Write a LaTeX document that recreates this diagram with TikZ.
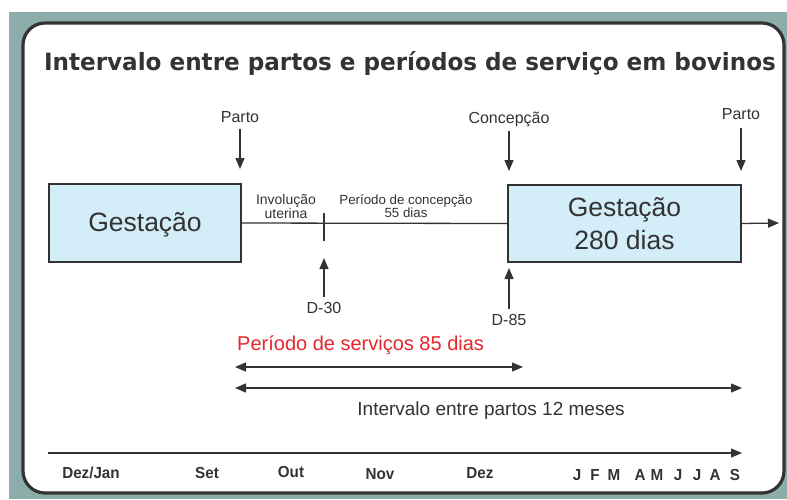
\documentclass[tikz,border=0pt]{standalone}
\usepackage{fontspec}
\setmainfont{Liberation Sans}
\newfontfamily\titlefont[FakeStretch=0.97]{DejaVu Sans}
\newfontfamily\narrowfont[FakeStretch=0.95]{Liberation Sans}
\usetikzlibrary{arrows.meta}
\definecolor{teal0}{HTML}{8CAEAB}
\definecolor{ink}{HTML}{333333}
\definecolor{boxblue}{HTML}{D3EDF9}
\definecolor{redtxt}{HTML}{E8262C}
\tikzset{
  fs/.style={font=\fontsize{#1}{#1}\selectfont},
  lbl/.style={text=ink, inner sep=0pt, anchor=center},
  gbox/.style={draw=ink, line width=1.2pt, fill=boxblue, inner sep=0pt, text=ink},
  conn/.style={draw=ink, line width=1.3pt},
  arr/.style={conn, -{Triangle[length=11pt,width=9pt]}},
  darr/.style={conn, {Triangle[length=11pt,width=9pt]}-{Triangle[length=11pt,width=9pt]}},
  month/.style={lbl, font=\narrowfont\bfseries\fontsize{16}{16}\selectfont},
}
\begin{document}
\begin{tikzpicture}[x=1pt,y=-1pt]
\useasboundingbox (0,0) rectangle (787,499);
\fill[white] (0,0) rectangle (787,499);
\fill[teal0] (9,12) rectangle (787,499);
\draw[ink, line width=3.2pt, fill=white, rounded corners=22pt] (23,23) rectangle (784,493);

\node[lbl, font=\titlefont\bfseries\fontsize{23.8}{24}\selectfont] (title) at (410,63) {Intervalo entre partos e períodos de serviço em bovinos};

% boxes
\node[gbox, minimum width=192pt, minimum height=78pt, fs=26.5, text height=19pt, text depth=2pt] (g1) at (145,223) {Gestação};
\node[gbox, minimum width=233pt, minimum height=77pt, align=center, fs=26.5] (g2) at (624.5,223.5) {Gestação\\[6pt]280 dias};

\coordinate (tickT) at (324,213);
\coordinate (tickB) at (324,241);
\draw[conn] (g1.east) -- (g2.west);
\draw[conn] (tickT) -- (tickB);
\coordinate (outend) at (779,223);
\draw[arr] (g2.east) -- (outend);

\node[lbl, fs=14, align=center] (invol) at (286,206) {Involução\\uterina};
\node[lbl, fs=13.3, align=center] (conc) at (406,206) {Período de concepção\\55 dias};

% top labels and arrows
\node[lbl, fs=16] (parto1) at (240,117) {Parto};
\node[lbl, fs=16] (concep) at (509,119) {Concepção};
\node[lbl, fs=16] (parto2) at (741,114) {Parto};
\coordinate (p1s) at (240,129);
\coordinate (c1s) at (509,131);
\coordinate (p2s) at (741,128);
\coordinate (p1e) at (240,169);
\coordinate (cce) at (509,171);
\coordinate (p2e) at (741,171);
\draw[arr] (p1s) -- (p1e);
\draw[arr] (c1s) -- (cce);
\draw[arr] (p2s) -- (p2e);

% bottom labels and arrows
\node[lbl, fs=16] (d30) at (324,308) {D-30};
\node[lbl, fs=16] (d85) at (509,320) {D-85};
\coordinate (d30s) at (324,297);
\coordinate (d85s) at (509,309);
\coordinate (d30e) at (324,258);
\coordinate (d85e) at (509,268);
\draw[arr] (d30s) -- (d30e);
\draw[arr] (d85s) -- (d85e);

% service period
\node[lbl, fs=20, text=redtxt, anchor=west] (serv) at (237,345) {Período de serviços 85 dias};
\coordinate (s1) at (235,367);
\coordinate (s2) at (523,367);
\draw[darr] (s1) -- (s2);
\coordinate (i1) at (235,388);
\coordinate (i2) at (742,388);
\draw[darr] (i1) -- (i2);
\node[lbl, fs=19] (interv) at (491,411) {Intervalo entre partos 12 meses};

% timeline
\coordinate (t1) at (48,453);
\coordinate (t2) at (742,453);
\draw[arr] (t1) -- (t2);
\node[month] (m1) at (91,473) {Dez/Jan};
\node[month] (m2) at (207,473) {Set};
\node[month] (m3) at (291,472) {Out};
\node[month] (m4) at (380,474) {Nov};
\node[month] (m5) at (480,473) {Dez};
\node[month] (m6) at (577,475) {J};
\node[month] (m7) at (595,475) {F};
\node[month] (m8) at (614,475) {M};
\node[month] (m9) at (640,475) {A};
\node[month] (m10) at (657,475) {M};
\node[month] (m11) at (678,475) {J};
\node[month] (m12) at (697,475) {J};
\node[month] (m13) at (715,475) {A};
\node[month] (m14) at (735,475) {S};
\end{tikzpicture}
\end{document}
